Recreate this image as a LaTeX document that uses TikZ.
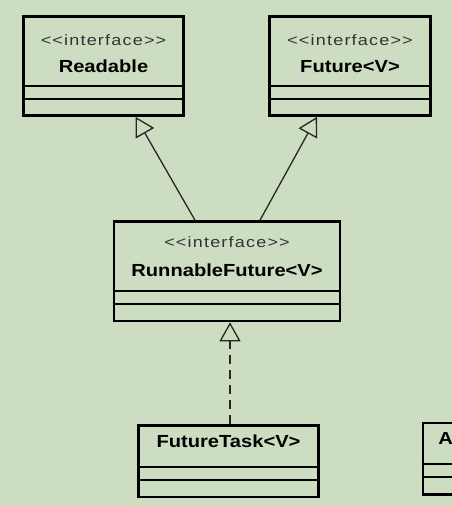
\documentclass[tikz,border=0pt]{standalone}
\usepackage{fontspec}
\setmainfont{Liberation Sans}
\newfontfamily\stereofont[Ligatures=TeXOff, FakeStretch=1.2, LetterSpace=8]{Liberation Sans}
\newfontfamily\namefont[FakeStretch=1.15]{Liberation Sans}
\usetikzlibrary{arrows.meta,positioning}
\definecolor{umlbg}{RGB}{204,221,194}

\begin{document}
\begin{tikzpicture}[x=1pt, y=-1pt, thick]
% Define styles for the class boxes and relations
\tikzstyle{classbox} = [rectangle, draw, line width=2.6pt, inner sep=0pt]
\tikzstyle{divider} = [draw, line width=1.8pt]
\tikzstyle{stereo} = [font=\stereofont\fontsize{15}{18}\selectfont, text=black!80]
\tikzstyle{cname} = [font=\namefont\fontsize{17.5}{20}\selectfont\bfseries]
\tikzstyle{extends} = [draw, line width=1.3pt, black!85, -{Triangle[open, length=19pt, width=21pt]}]
\tikzstyle{realizes} = [extends, dash pattern=on 9pt off 6pt]

% Background
\clip (0,0) rectangle (452,506);
\fill[umlbg] (0,0) rectangle (452,506);

% Place class boxes
\node[classbox, minimum width=160, minimum height=99] (readable) at (103.5,66) {};
\node[classbox, minimum width=161, minimum height=99] (future) at (350,66) {};
\node[classbox, minimum width=226, minimum height=99.5] (runnable) at (227,271.25) {};
\node[classbox, minimum width=180, minimum height=71.5, below=102pt of runnable, xshift=1.5pt] (task) {};
\node[classbox, minimum width=200, minimum height=71.5, anchor=west] (other) at (421.5,458.75) {};

% Class names
\node[stereo] at ([yshift=-24.5]readable.north) {<<interface>>};
\node[cname] at ([yshift=-51.5]readable.north) {Readable};
\node[stereo] at ([yshift=-24.5]future.north) {<<interface>>};
\node[cname] at ([yshift=-51.5]future.north) {Future<V>};
\node[stereo] at ([yshift=-21.5]runnable.north) {<<interface>>};
\node[cname] at ([yshift=-50.5]runnable.north) {RunnableFuture<V>};
\node[cname] at ([yshift=-17]task.north) {FutureTask<V>};
\node[cname, anchor=west, inner sep=0pt] at ([xshift=16.5, yshift=-17]other.north west) {A};

% Compartment lines
\draw[divider] ([yshift=30.5]readable.south west) -- ([yshift=30.5]readable.south east);
\draw[divider] ([yshift=17.5]readable.south west) -- ([yshift=17.5]readable.south east);
\draw[divider] ([yshift=30.5]future.south west) -- ([yshift=30.5]future.south east);
\draw[divider] ([yshift=17.5]future.south west) -- ([yshift=17.5]future.south east);
\draw[divider] ([yshift=31]runnable.south west) -- ([yshift=31]runnable.south east);
\draw[divider] ([yshift=18]runnable.south west) -- ([yshift=18]runnable.south east);
\draw[divider] ([yshift=31.5]task.south west) -- ([yshift=31.5]task.south east);
\draw[divider] ([yshift=18.5]task.south west) -- ([yshift=18.5]task.south east);
\draw[divider] ([yshift=31.5]other.south west) -- ([yshift=31.5]other.south east);
\draw[divider] ([yshift=18.5]other.south west) -- ([yshift=18.5]other.south east);

% Connect boxes
\draw[extends] ([xshift=-32]runnable.north) -- ([xshift=32]readable.south);
\draw[extends] ([xshift=33]runnable.north) -- ([xshift=-33]future.south);
\draw[realizes] ([xshift=1.5]task.north) -- ([xshift=3]runnable.south);

\end{tikzpicture}
\end{document}
